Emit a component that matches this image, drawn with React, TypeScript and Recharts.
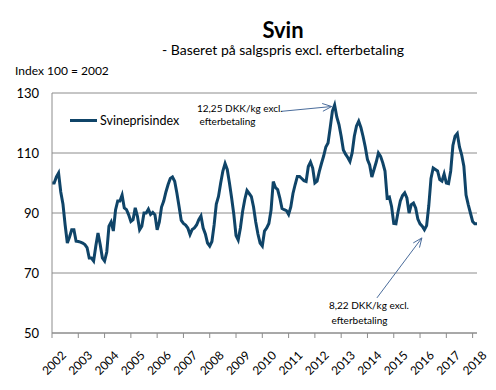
import { LineChart, Line, XAxis, YAxis, CartesianGrid, ReferenceLine } from 'recharts';

// monthly index values, 100 = 2002
const y2002 = [100, 100, 102, 103.3, 97, 93, 86, 80, 82, 84.4, 84.4, 80.6];
const y2003 = [80.5, 80.3, 80, 79.5, 78.5, 75, 75, 74, 79, 83.3, 79.5, 75];
const y2004 = [74, 77, 85.6, 87, 84, 91, 94, 94, 96, 91.7, 91.1, 89.4];
const y2005 = [87.2, 87.8, 91.7, 88.9, 84.4, 85.6, 90, 90, 91.3, 89.5, 90.2, 89.4];
const y2006 = [84.4, 87, 92, 94, 97, 99.5, 101.5, 102, 100.6, 96.7, 92.2, 87.5];
const y2007 = [86.5, 86, 85, 82.8, 84.5, 85, 86, 87.8, 89, 85, 83, 80];
const y2008 = [79, 80.5, 86, 93, 95.5, 100, 104, 106.5, 104.5, 100, 95, 89.5];
const y2009 = [82.5, 81, 85, 90.5, 94.5, 97.5, 96.5, 95.5, 92, 87, 83, 80];
const y2010 = [79, 84, 85, 86.5, 91, 100.5, 98.5, 97.8, 95, 91.5, 91.1, 90.8];
const y2011 = [89.5, 92, 96.5, 99.5, 102.2, 102.2, 101.5, 100.8, 100.5, 105.5, 107, 105];
const y2012 = [100, 100.6, 103.8, 106.5, 109, 112, 113.3, 118.5, 124, 126, 122, 119.5];
const y2013 = [115.6, 111, 109.6, 108.5, 107.2, 110, 115.6, 119, 120.6, 118.5, 115.5, 112];
const y2014 = [107.8, 106, 102, 104.5, 107, 110, 108.9, 106.7, 104, 95, 95.3, 92.2];
const y2015 = [86.5, 86.4, 90.5, 94, 95.8, 96.7, 95, 90, 92.8, 93.3, 91.7, 88];
const y2016 = [86.4, 85.6, 84.4, 85.8, 92.5, 101.5, 105, 104.5, 104, 101.1, 100.6, 103];
const y2017 = [100, 99.8, 104, 112.5, 115.6, 116.5, 112, 109.4, 105.6, 96, 92.8, 90];
const y2018 = [87.2, 86.4, 86.4];

const years = [2002, 2003, 2004, 2005, 2006, 2007, 2008, 2009, 2010, 2011, 2012, 2013, 2014, 2015, 2016, 2017, 2018];
const yTicks = [50, 70, 90, 110, 130];

const series = [y2002, y2003, y2004, y2005, y2006, y2007, y2008, y2009, y2010, y2011, y2012, y2013, y2014, y2015, y2016, y2017, y2018];
const data = series.flatMap((vals, yi) => vals.map((v, m) => ({ t: years[yi] + m / 12, value: v })));
const lastT = data[data.length - 1].t;

const FONT = 'Lato, "Open Sans", sans-serif';
const NAVY = '#0f4468';
const ARROW = '#4a6c9b';

const Arrow = (props: any) => {
  const { x1, y1, x2, y2 } = props;
  const a = Math.atan2(y2 - y1, x2 - x1);
  const len = 10;
  const spread = 0.4;
  const p1x = x2 - len * Math.cos(a - spread);
  const p1y = y2 - len * Math.sin(a - spread);
  const p2x = x2 - len * Math.cos(a + spread);
  const p2y = y2 - len * Math.sin(a + spread);
  return (
    <g stroke={ARROW} strokeWidth={1} fill="none">
      <line x1={x1} y1={y1} x2={x2} y2={y2} />
      <polyline points={`${p1x},${p1y} ${x2},${y2} ${p2x},${p2y}`} />
    </g>
  );
};

const YearTick = (props: any) => {
  const { x, y, payload } = props;
  return (
    <g transform={`translate(${x + 5},${y + 26})`}>
      <text transform="rotate(-45)" textAnchor="middle" fontSize={12} fill="#000" fontFamily={FONT}>
        {payload.value}
      </text>
    </g>
  );
};

export default function App() {
  return (
    <div style={{ position: 'absolute', left: 0, top: 0, width: 496, height: 390, background: '#fff', fontFamily: FONT }}>
      <div style={{ position: 'absolute', left: 0, width: 566, top: 16, textAlign: 'center', fontSize: 22, fontWeight: 700 }}>Svin</div>
      <div style={{ position: 'absolute', left: 0, width: 566, top: 41, textAlign: 'center', fontSize: 14 }}>
        - Baseret på salgspris excl. efterbetaling
      </div>
      <div style={{ position: 'absolute', left: 15, top: 63, fontSize: 12 }}>Index 100 = 2002</div>
      <LineChart width={496} height={390} data={data} margin={{ top: 93, right: 19, bottom: 27, left: 0 }}>
        <CartesianGrid vertical={false} stroke="#8c8c8c" />
        <XAxis
          dataKey="t"
          type="number"
          domain={[years[0], lastT]}
          ticks={years}
          interval={0}
          height={30}
          stroke="#8c8c8c"
          tickSize={5}
          tick={<YearTick />}
        />
        <YAxis
          domain={[50, 130]}
          ticks={yTicks}
          width={52}
          stroke="#8c8c8c"
          tickLine={false}
          tickMargin={7}
          tick={{ fill: '#000', fontSize: 13, fontFamily: FONT }}
        />
        <ReferenceLine segment={[{ x: 2010.74, y: 123.9 }, { x: 2012.64, y: 125.5 }]} shape={<Arrow />} />
        <ReferenceLine segment={[{ x: 2014.36, y: 61.7 }, { x: 2016.07, y: 81.7 }]} shape={<Arrow />} />
        <Line
          type="linear"
          dataKey="value"
          name="Svineprisindex"
          stroke={NAVY}
          strokeWidth={3}
          dot={false}
          isAnimationActive={false}
        />
      </LineChart>
      <div style={{ position: 'absolute', left: 70, top: 113, display: 'flex', alignItems: 'center', fontSize: 12.5 }}>
        <div style={{ width: 27, height: 3, background: NAVY, marginRight: 3 }} />
        <span>Svineprisindex</span>
      </div>
      <div style={{ position: 'absolute', left: 197, top: 102, fontSize: 10, lineHeight: '13px' }}>
        12,25 DKK/kg excl.
        <br />
        &nbsp;efterbetaling
      </div>
      <div style={{ position: 'absolute', left: 329, top: 298, fontSize: 10, lineHeight: '15px' }}>
        8,22 DKK/kg excl.
        <br />
        &nbsp;efterbetaling
      </div>
    </div>
  );
}
